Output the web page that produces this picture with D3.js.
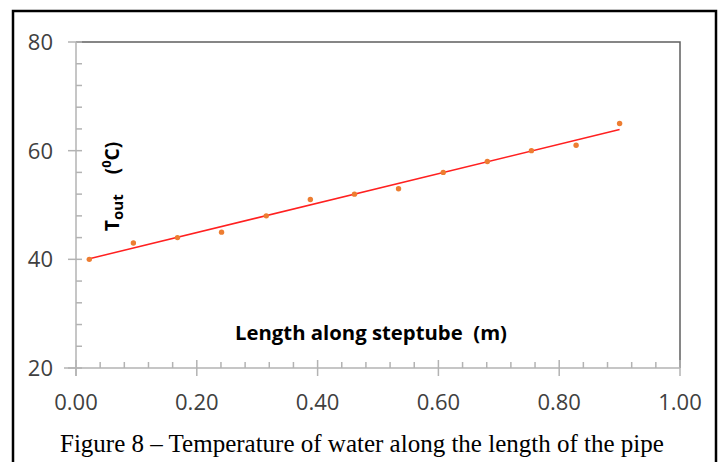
<!DOCTYPE html>
<html lang="en">
<head>
  <meta charset="UTF-8"/>
  <title>Temperature of water along the pipe</title>
  <script src="https://d3js.org/d3.v7.min.js"></script>
  <style>
body {
  margin: 0;
  background: #fff;
}

svg {
  display: block;
}

.tick-label {
  font-family: 'Open Sans', sans-serif;
  font-size: 22px;
  fill: #404040;
}

.axis-title {
  font-family: 'Open Sans', sans-serif;
  font-weight: 700;
  font-size: 19px;
  fill: #000;
}

.caption {
  font-family: 'Liberation Serif', 'Times New Roman', serif;
  font-size: 25px;
  fill: #000;
}
  </style>
</head>
<body>
  <svg width="723" height="462"></svg>
  <script>

// length along steptube (m)
const lengths = [0.022, 0.095, 0.168, 0.241, 0.315, 0.388, 0.461, 0.534, 0.608, 0.681, 0.754, 0.828, 0.900];
// outlet temperature (degC)
const temps = [40, 43, 44, 45, 48, 51, 52, 53, 56, 58, 60, 61, 65];

const xTicks = [0, 0.2, 0.4, 0.6, 0.8, 1.0];
const yTicks = [20, 40, 60, 80];

const svg = d3.select('svg');

const plot = { left: 76, right: 680, top: 42, bottom: 368 };

const xScale = d3.scaleLinear().domain([0, 1]).range([plot.left, plot.right]);
const yScale = d3.scaleLinear().domain([20, 80]).range([plot.bottom, plot.top]);

// outer frame (open at the bottom)
svg.append('path')
  .attr('d', `M13,462 V11 H716 V462`)
  .attr('fill', 'none')
  .attr('stroke', '#000')
  .attr('stroke-width', 2.5);

// plot frame top and right
svg.append('path')
  .attr('d', `M${plot.left},${plot.top} H${plot.right} V${plot.bottom}`)
  .attr('fill', 'none')
  .attr('stroke', '#5f5f5f')
  .attr('stroke-width', 1.5);

const axisColor = '#b3b3b3';

// y axis
const yAxis = svg.append('g')
  .attr('transform', `translate(${plot.left},0)`);
yAxis.append('line')
  .attr('y1', plot.top).attr('y2', plot.bottom + 8)
  .attr('stroke', axisColor).attr('stroke-width', 1.5);
yAxis.selectAll('.major')
  .data(yTicks)
  .enter().append('line')
  .attr('x1', -8).attr('x2', 6)
  .attr('y1', d => yScale(d)).attr('y2', d => yScale(d))
  .attr('stroke', axisColor).attr('stroke-width', 1.5);
yAxis.selectAll('.minor')
  .data(d3.range(20, 80, 4).filter(v => v % 20 !== 0))
  .enter().append('line')
  .attr('x1', 0).attr('x2', 6)
  .attr('y1', d => yScale(d)).attr('y2', d => yScale(d))
  .attr('stroke', axisColor).attr('stroke-width', 1.5);
yAxis.selectAll('text')
  .data(yTicks)
  .enter().append('text')
  .attr('class', 'tick-label')
  .attr('x', -23)
  .attr('y', d => yScale(d))
  .attr('dy', '0.36em')
  .attr('text-anchor', 'end')
  .text(d => d);

// x axis
const xAxis = svg.append('g')
  .attr('transform', `translate(0,${plot.bottom})`);
xAxis.append('line')
  .attr('x1', plot.left - 12).attr('x2', plot.right)
  .attr('stroke', axisColor).attr('stroke-width', 1.5);
xAxis.selectAll('.major')
  .data(xTicks)
  .enter().append('line')
  .attr('x1', d => xScale(d)).attr('x2', d => xScale(d))
  .attr('y1', -8).attr('y2', 8)
  .attr('stroke', axisColor).attr('stroke-width', 1.5);
xAxis.selectAll('.minor')
  .data(d3.range(0, 25).map(i => i * 0.04).filter((v, i) => i % 5 !== 0))
  .enter().append('line')
  .attr('x1', d => xScale(d)).attr('x2', d => xScale(d))
  .attr('y1', -6).attr('y2', 0)
  .attr('stroke', axisColor).attr('stroke-width', 1.5);
xAxis.selectAll('text')
  .data(xTicks)
  .enter().append('text')
  .attr('class', 'tick-label')
  .attr('x', d => xScale(d))
  .attr('y', 42)
  .attr('text-anchor', 'middle')
  .text(d => d.toFixed(2));

// linear trendline from the data
const mx = d3.mean(lengths), my = d3.mean(temps);
const slope = d3.sum(lengths, (x, i) => (x - mx) * (temps[i] - my)) /
  d3.sum(lengths, x => (x - mx) * (x - mx));
const icpt = my - slope * mx;
const x0 = d3.min(lengths), x1 = d3.max(lengths);

svg.append('line')
  .attr('x1', xScale(x0)).attr('y1', yScale(icpt + slope * x0))
  .attr('x2', xScale(x1)).attr('y2', yScale(icpt + slope * x1))
  .attr('stroke', '#ff2020')
  .attr('stroke-width', 1.5);

// data points
svg.selectAll('circle')
  .data(lengths)
  .enter().append('circle')
  .attr('cx', d => xScale(d))
  .attr('cy', (d, i) => yScale(temps[i]))
  .attr('r', 2.7)
  .attr('fill', '#ed7d31');

// axis titles
const yTitle = svg.append('text')
  .attr('class', 'axis-title')
  .attr('font-size', '20px')
  .attr('transform', 'translate(119,231) rotate(-90)');
yTitle.append('tspan').text('T');
yTitle.append('tspan').attr('font-size', '15px').attr('dy', 4).text('out');
yTitle.append('tspan').attr('dy', -4).attr('dx', 20).text('(');
yTitle.append('tspan').attr('font-size', '13px').attr('dy', -8).text('0');
yTitle.append('tspan').attr('dy', 8).text('C)');

svg.append('text')
  .attr('class', 'axis-title')
  .attr('x', 235)
  .attr('y', 340)
  .attr('textLength', 272)
  .attr('lengthAdjust', 'spacingAndGlyphs')
  .text('Length along steptube\u00a0\u00a0(m)');

// caption
svg.append('text')
  .attr('class', 'caption')
  .attr('x', 60)
  .attr('y', 452)
  .text('Figure 8 \u2013 Temperature of water along the length of the pipe');

  </script>
</body>
</html>
